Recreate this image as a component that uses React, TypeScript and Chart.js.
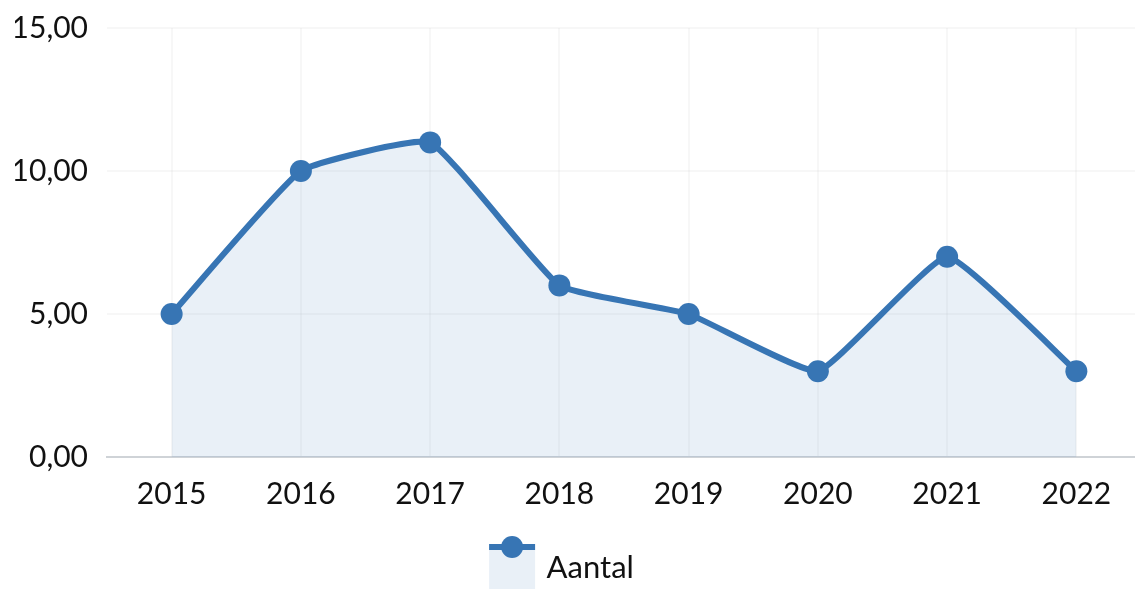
import React, { useEffect, useRef } from "react";
import { Chart, registerables } from "chart.js";

Chart.register(...registerables);

const categories = ["2015", "2016", "2017", "2018", "2019", "2020", "2021", "2022"];
const aantal = [5, 10, 11, 6, 5, 3, 7, 3];
const seriesLabel = "Aantal";
const yMin = 0;
const yMax = 15;
const yStep = 5;

const LINE = "rgb(55,117,180)";
const FILL = "rgba(55,117,180,0.11)";
const FONT = "Lato";
const TEXT = "#111111";
const LEG_BOX_W = 46;
const LEG_BOX_H = 42;
const LEG_SHIFT = 22;

const legendDecor = {
  id: "legendDecor",
  afterLayout(chart: any) {
    const legend = chart.legend;
    if (!legend) return;
    legend.left -= LEG_SHIFT;
    legend.right -= LEG_SHIFT;
  },
  afterDraw(chart: any) {
    const legend = chart.legend;
    if (!legend || !legend.legendHitBoxes || !legend.legendHitBoxes.length) return;
    const hb = legend.legendHitBoxes[0];
    const cy = hb.top + hb.height / 2;
    const top = cy - LEG_BOX_H / 2;
    const ctx = chart.ctx;
    ctx.save();
    ctx.fillStyle = FILL;
    ctx.fillRect(hb.left, top, LEG_BOX_W, LEG_BOX_H);
    ctx.strokeStyle = LINE;
    ctx.lineWidth = 6;
    ctx.beginPath();
    ctx.moveTo(hb.left, top);
    ctx.lineTo(hb.left + LEG_BOX_W, top);
    ctx.stroke();
    ctx.fillStyle = LINE;
    ctx.beginPath();
    ctx.arc(hb.left + LEG_BOX_W / 2, top, 11, 0, Math.PI * 2);
    ctx.fill();
    ctx.restore();
  },
};

export default function App() {
  const ref = useRef<HTMLCanvasElement | null>(null);
  useEffect(() => {
    document.body.style.margin = "0";
    const canvas = ref.current;
    if (!canvas) return;
    const chart = new Chart(canvas, {
      type: "line",
      data: {
        labels: categories,
        datasets: [
          {
            label: seriesLabel,
            data: aantal,
            borderColor: LINE,
            backgroundColor: FILL,
            fill: "origin",
            borderWidth: 6,
            pointRadius: 11,
            pointHoverRadius: 11,
            pointBackgroundColor: LINE,
            pointBorderColor: LINE,
            pointBorderWidth: 0,
            tension: 0.12,
          },
        ],
      },
      options: {
        responsive: false,
        animation: false,
        devicePixelRatio: 1,
        layout: { padding: { left: 15, top: 1, right: 0, bottom: 0 } },
        plugins: {
          tooltip: { enabled: false },
          legend: {
            position: "bottom",
            labels: {
              boxWidth: LEG_BOX_W - 4,
              boxHeight: LEG_BOX_H,
              padding: 10,
              color: TEXT,
              font: { family: FONT, size: 31 },
              generateLabels: () => [
                {
                  text: seriesLabel,
                  fillStyle: "rgba(0,0,0,0)",
                  strokeStyle: "rgba(0,0,0,0)",
                  lineWidth: 0,
                  hidden: false,
                  datasetIndex: 0,
                  fontColor: TEXT,
                },
              ],
            },
          },
        },
        scales: {
          x: {
            offset: true,
            grid: {
              offset: false,
              drawTicks: false,
              color: "rgba(0,0,0,0.03)",
              lineWidth: 2,
            },
            border: { display: true, color: "#cfd3d7", width: 2 },
            ticks: {
              padding: 19,
              color: TEXT,
              font: { family: FONT, size: 30 },
              maxRotation: 0,
            },
            afterFit: (scale: any) => {
              scale.height = 80;
            },
          },
          y: {
            min: yMin,
            max: yMax,
            grid: { drawTicks: false, color: "rgba(0,0,0,0.03)", lineWidth: 2 },
            border: { display: false },
            ticks: {
              stepSize: yStep,
              padding: 19,
              color: TEXT,
              font: { family: FONT, size: 30 },
              callback: (v: any) => Number(v).toFixed(2).replace(".", ","),
            },
            afterFit: (scale: any) => {
              scale.width = 92;
            },
          },
        },
      },
      plugins: [legendDecor],
    });
    return () => chart.destroy();
  }, []);
  return (
    <div style={{ width: 1135, height: 590, overflow: "hidden" }}>
      <canvas
        ref={ref}
        width={1152}
        height={608}
        style={{ display: "block", marginTop: -9 }}
      />
    </div>
  );
}
